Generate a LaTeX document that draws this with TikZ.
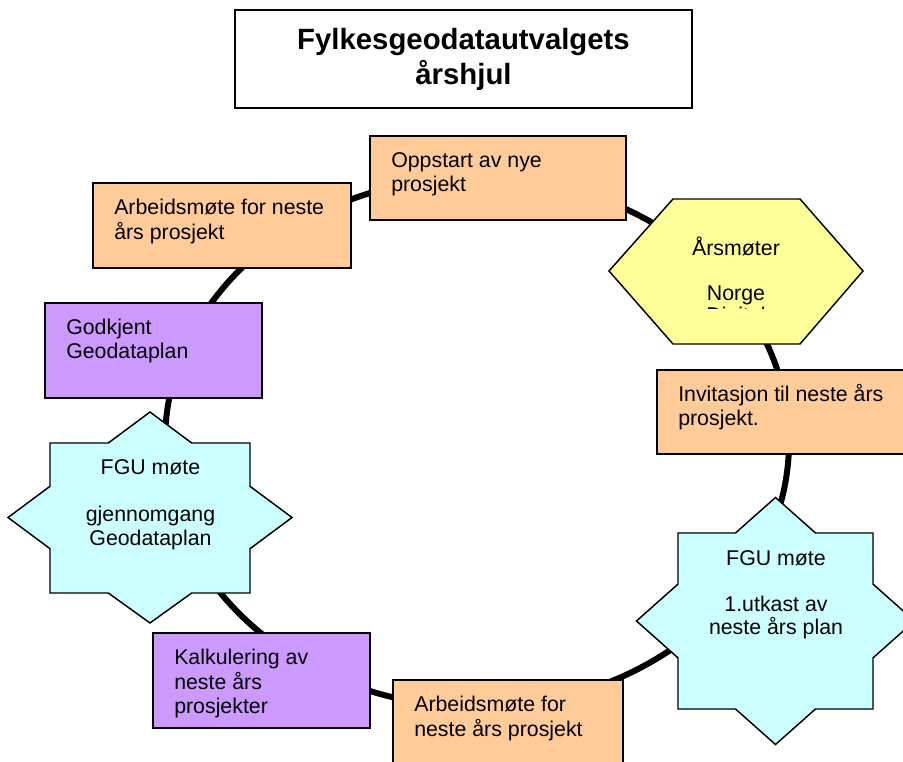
\documentclass[tikz,border=0pt]{standalone}
\usepackage{fontspec}
\setmainfont{Liberation Sans}
\definecolor{peachc}{HTML}{FFCC99}
\definecolor{lilacc}{HTML}{CC99FF}
\definecolor{cyanc}{HTML}{CCFFFF}
\definecolor{yellowc}{HTML}{FFFF99}
\begin{document}
\begin{tikzpicture}[x=0.75pt,y=-0.75pt,
  ring/.style={draw=black,line width=4.5pt},
  outline/.style={draw=black,line width=1.1pt,line join=miter},
  peachbox/.style={outline,fill=peachc},
  lilacbox/.style={outline,fill=lilacc},
  starshape/.style={outline,fill=cyanc},
  hexshape/.style={outline,fill=yellowc},
  titlebox/.style={outline,fill=white},
  boxtext/.style={anchor=north west,inner sep=0pt,align=left,font=\fontsize{16}{18}\selectfont},
  ctext/.style={anchor=north,inner sep=0pt,align=center},
  titletext/.style={anchor=north,inner sep=0pt,align=center,font=\bfseries\fontsize{22}{25.5}\selectfont}
]
\useasboundingbox (0,0) rectangle (903,762);
\clip (0,0) rectangle (903,762);

% the wheel
\draw[ring] (477,442) ellipse [x radius=312, y radius=265];

% title
\path[titlebox] (235,10) rectangle (692,108);
\node[titletext] (title) at (463.5,25.2) {\strut Fylkesgeodatautvalgets\\årshjul};

% boxes
\path[peachbox] (370,136) rectangle (626,220);
\node[boxtext] (oppstart) at (391,150) {\strut Oppstart av nye\\prosjekt};

\path[peachbox] (93,183) rectangle (351,268);
\node[boxtext] (arbeid1) at (114,197) {\strut Arbeidsmøte for neste\\års prosjekt};

\path[lilacbox] (45,303) rectangle (262,398);
\node[boxtext] (godkjent) at (66,317) {\strut Godkjent\\Geodataplan};

\path[peachbox] (657,370) rectangle (912,454);
\node[boxtext] (invitasjon) at (678,384) {\strut Invitasjon til neste års\\prosjekt.};

\path[lilacbox] (153,633) rectangle (370,728);
\node[boxtext] (kalkulering) at (174,647) {\strut Kalkulering av\\neste års\\prosjekter};

\path[peachbox] (393,680) rectangle (623,775);
\node[boxtext] (arbeid2) at (414,694) {\strut Arbeidsmøte for\\neste års prosjekt};

% hexagon
\path[hexshape] (609,271) -- (673,199) -- (800,199) -- (863,271) -- (800,344) -- (673,344) -- cycle;
\begin{scope}
  \clip (600,190) rectangle (870,308.3);
  \node[ctext,font=\fontsize{16}{16.9}\selectfont] (aarsmoeter) at (736,239.2)
    {\strut\smash{Årsmøter}\\\mbox{}\\Norge\\Digital};
\end{scope}

% left star
\path[starshape] (50,443) -- (108.3,443) -- (150,412) -- (191.7,443) -- (250,443)
  -- (250,486.3) -- (292,517.5) -- (250,548.7) -- (250,593)
  -- (191.7,593) -- (150,623) -- (108.3,593) -- (50,593)
  -- (50,548.7) -- (8,517.5) -- (50,486.3) -- cycle;
\node[ctext,font=\fontsize{16}{17.8}\selectfont] (fgu1) at (150.5,457.4)
  {\strut FGU møte\\\mbox{}\\gjennomgang\\Geodataplan};

% right star
\path[starshape] (678,533) -- (735.5,533) -- (775.5,497.5) -- (815.5,533) -- (873,533)
  -- (873,584.1) -- (914.5,621) -- (873,657.9) -- (873,709)
  -- (815.5,709) -- (775.5,744.5) -- (735.5,709) -- (678,709)
  -- (678,657.9) -- (636.5,621) -- (678,584.1) -- cycle;
\node[ctext,font=\fontsize{16}{17.3}\selectfont] (fgu2) at (776,548.9)
  {\strut FGU møte\\\mbox{}\\1.utkast av\\neste års plan};
\end{tikzpicture}
\end{document}
